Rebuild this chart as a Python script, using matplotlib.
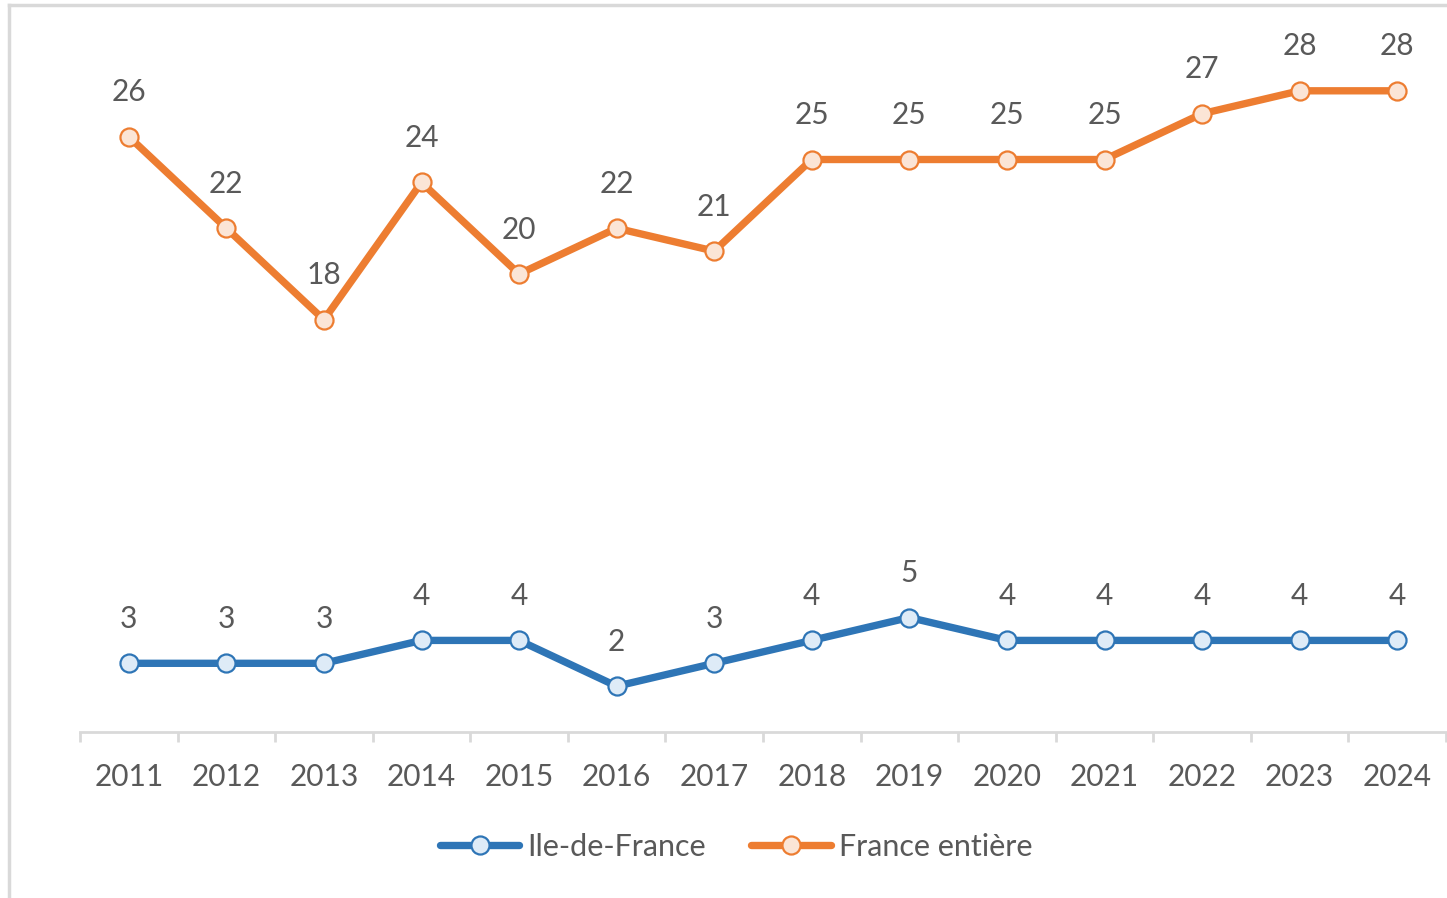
import matplotlib
matplotlib.use("Agg")
import matplotlib.pyplot as plt
from matplotlib.lines import Line2D
import numpy as np

years = ["2011", "2012", "2013", "2014", "2015", "2016", "2017",
         "2018", "2019", "2020", "2021", "2022", "2023", "2024"]
idf = [3, 3, 3, 4, 4, 2, 3, 4, 5, 4, 4, 4, 4, 4]
france = [26, 22, 18, 24, 20, 22, 21, 25, 25, 25, 25, 27, 28, 28]

plt.rcParams['font.family'] = ['Lato', 'DejaVu Sans']
TXT = '#595959'
FS = 21.5
W, H = 1447, 898
fig = plt.figure(figsize=(W / 100, H / 100), dpi=100)
ax = fig.add_axes([80 / W, 1 - 732 / H, (1446 - 80) / W, (732 - 45) / H])

x = np.arange(len(years))
series = [
    (idf, '#2E75B6', '#DEEBF7', 'Ile-de-France'),
    (france, '#ED7D31', '#FBE5D6', 'France entière'),
]
for vals, col, face, lab in series:
    ax.plot(x, vals, color=col, lw=5.3, marker='o', ms=13, mfc=face, mec=col,
            mew=1.6, label=lab, solid_capstyle='round', zorder=3, clip_on=False)
    for xi, v in zip(x, vals):
        ax.annotate(str(v), (xi, v), xytext=(0, 32), textcoords='offset points',
                    ha='center', va='center', fontsize=FS, color=TXT)

ax.set_xlim(-0.5, len(years) - 0.5)
ax.set_ylim(0, 30)
ax.set_yticks([])
for s in ['top', 'right', 'left']:
    ax.spines[s].set_visible(False)
ax.spines['bottom'].set_color('#D9D9D9')
ax.spines['bottom'].set_linewidth(2)
ax.set_xticks(x)
ax.set_xticklabels(years, fontsize=FS, color=TXT)
ax.tick_params(axis='x', which='major', length=0, pad=22)
ax.set_xticks(np.arange(-0.5, len(years)), minor=True)
ax.tick_params(axis='x', which='minor', length=7, width=2, color='#D9D9D9')

handles = [Line2D([], [], color=c, lw=5.3, marker='o', ms=13, mfc=f, mec=c, mew=1.6,
                  solid_capstyle='round')
           for _, c, f, _ in series]
labels = [s[3] for s in series]
leg = fig.legend(handles, labels, loc='center', bbox_to_anchor=(736 / W, 1 - 847 / H),
                 ncol=2, frameon=False, fontsize=22, handlelength=2.6,
                 handletextpad=0.25, columnspacing=1.5)
for t in leg.get_texts():
    t.set_color(TXT)

# outer frame (left and top edges visible)
fig.add_artist(Line2D([9 / W, 9 / W], [0, 1 - 5 / H], color='#D9D9D9', lw=2.5,
                      transform=fig.transFigure))
fig.add_artist(Line2D([9 / W, 1], [1 - 5 / H, 1 - 5 / H], color='#D9D9D9', lw=2.5,
                      transform=fig.transFigure))

fig.savefig('out.png', dpi=100)
